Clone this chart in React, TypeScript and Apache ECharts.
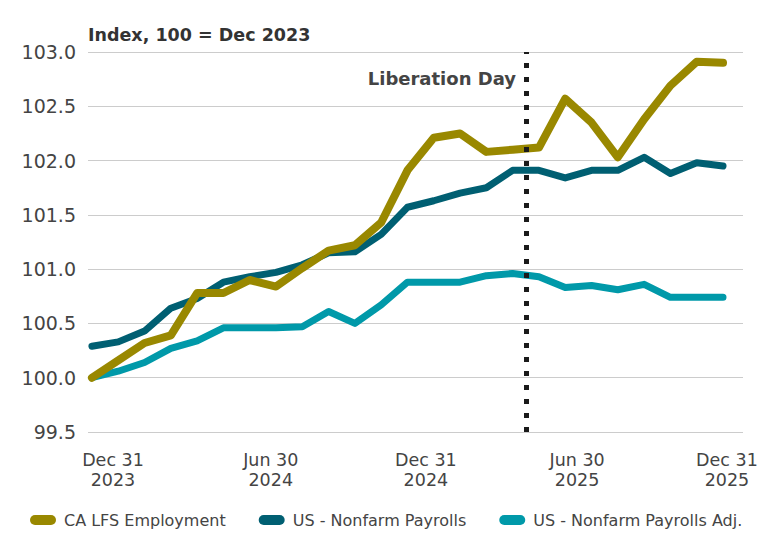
import React, { useEffect, useRef } from "react";
import * as echarts from "echarts";

// Monthly observations, Dec 2023 .. Dec 2025
const months = [
  "Dec 2023", "Jan 2024", "Feb 2024", "Mar 2024", "Apr 2024", "May 2024", "Jun 2024",
  "Jul 2024", "Aug 2024", "Sep 2024", "Oct 2024", "Nov 2024", "Dec 2024",
  "Jan 2025", "Feb 2025", "Mar 2025", "Apr 2025", "May 2025", "Jun 2025",
  "Jul 2025", "Aug 2025", "Sep 2025", "Oct 2025", "Nov 2025", "Dec 2025",
];

const caLfsEmployment = [
  100.0, 100.16, 100.32, 100.39, 100.78, 100.78, 100.9, 100.84, 101.01, 101.17, 101.22, 101.43, 101.91,
  102.21, 102.25, 102.08, 102.1, 102.12, 102.57, 102.35, 102.03, 102.38, 102.69, 102.91, 102.9,
];

const usNonfarmPayrolls = [
  100.29, 100.33, 100.43, 100.64, 100.73, 100.88, 100.93, 100.97, 101.04, 101.15, 101.16, 101.32, 101.57,
  101.63, 101.7, 101.75, 101.91, 101.91, 101.84, 101.91, 101.91, 102.03, 101.88, 101.98, 101.95,
];

const usNonfarmPayrollsAdj = [
  100.0, 100.06, 100.14, 100.27, 100.34, 100.46, 100.46, 100.46, 100.47, 100.61, 100.5, 100.67, 100.88,
  100.88, 100.88, 100.94, 100.96, 100.93, 100.83, 100.85, 100.81, 100.86, 100.74, 100.74, 100.74,
];

// x-axis tick labels (positions in months since Dec 2023)
const tickPositions = [0.8, 6.8, 12.7, 18.45, 24.15];
const tickLabels = ["Dec 31\n2023", "Jun 30\n2024", "Dec 31\n2024", "Jun 30\n2025", "Dec 31\n2025"];

const liberationDay = 16.5; // early April 2025
const liberationLabel = "Liberation Day";
const titleText = "Index, 100 = Dec 2023";

const seriesNames = ["CA LFS Employment", "US - Nonfarm Payrolls", "US - Nonfarm Payrolls Adj."];
const colors = ["#998800", "#005F72", "#0099A9"];

const FONT = "'DejaVu Sans', 'Noto Sans', sans-serif";
const pill = "path://M5,0 L21,0 A5,5 0 0 1 21,10 L5,10 A5,5 0 0 1 5,0 Z";

export default function App() {
  const ref = useRef<HTMLDivElement>(null);

  useEffect(() => {
    if (!ref.current) return;
    const chart = echarts.init(ref.current, undefined, { renderer: "svg" });
    const toPairs = (arr: number[]) => arr.map((v, i) => [i, v]);

    const option: any = {
      animation: false,
      backgroundColor: "#ffffff",
      textStyle: { fontFamily: FONT },
      title: {
        text: titleText,
        left: 83,
        top: 21,
        textStyle: { fontFamily: FONT, fontSize: 17.5, fontWeight: "bold", color: "#333333" },
      },
      grid: { left: 88, right: 37, top: 52, bottom: 122, containLabel: false },
      xAxis: {
        type: "value",
        min: -0.15,
        max: 24.76,
        axisLine: { show: false },
        axisTick: { show: false },
        splitLine: { show: false },
        axisLabel: {
          customValues: tickPositions,
          formatter: (v: number) => {
            const k = tickPositions.findIndex((p) => Math.abs(p - v) < 0.001);
            return k >= 0 ? tickLabels[k] : "";
          },
          fontFamily: FONT,
          fontSize: 17.5,
          lineHeight: 20,
          color: "#444444",
          margin: 18,
        },
      },
      yAxis: {
        type: "value",
        min: 99.5,
        max: 103,
        interval: 0.5,
        axisLine: { show: false },
        axisTick: { show: false },
        splitLine: { lineStyle: { color: "#cccccc", width: 1 } },
        axisLabel: {
          formatter: (v: number) => v.toFixed(1),
          fontFamily: FONT,
          fontSize: 19,
          color: "#444444",
          margin: 12,
        },
      },
      legend: {
        left: 25,
        top: 507,
        itemWidth: 26,
        itemHeight: 10,
        itemGap: 33,
        icon: pill,
        textStyle: { fontFamily: FONT, fontSize: 16, color: "#444444", padding: [0, 0, 0, 3] },
        data: seriesNames,
      },
      graphic: [
        {
          type: "text",
          right: 780 - 516,
          top: 69,
          style: {
            text: liberationLabel,
            font: `bold 18px ${FONT}`,
            fill: "#444444",
          },
        },
      ],
      series: [
        {
          name: seriesNames[0],
          type: "line",
          data: toPairs(caLfsEmployment),
          showSymbol: false,
          symbol: "none",
          z: 4,
          color: colors[0],
          lineStyle: { color: colors[0], width: 8, cap: "round", join: "round" },
        },
        {
          name: seriesNames[1],
          type: "line",
          data: toPairs(usNonfarmPayrolls),
          showSymbol: false,
          symbol: "none",
          z: 3,
          color: colors[1],
          lineStyle: { color: colors[1], width: 7, cap: "round", join: "round" },
        },
        {
          name: seriesNames[2],
          type: "line",
          data: toPairs(usNonfarmPayrollsAdj),
          showSymbol: false,
          symbol: "none",
          z: 2,
          color: colors[2],
          lineStyle: { color: colors[2], width: 7, cap: "round", join: "round" },
          markLine: {
            silent: true,
            symbol: "none",
            label: { show: false },
            lineStyle: { color: "#1a1a1a", width: 5, type: [5, 9] },
            data: [{ xAxis: liberationDay }],
            z: 5,
          },
        },
      ],
    };

    chart.setOption(option);
    return () => chart.dispose();
  }, []);

  return (
    <div
      ref={ref}
      style={{ position: "fixed", left: 0, top: 0, width: 780, height: 554, background: "#fff" }}
    />
  );
}
